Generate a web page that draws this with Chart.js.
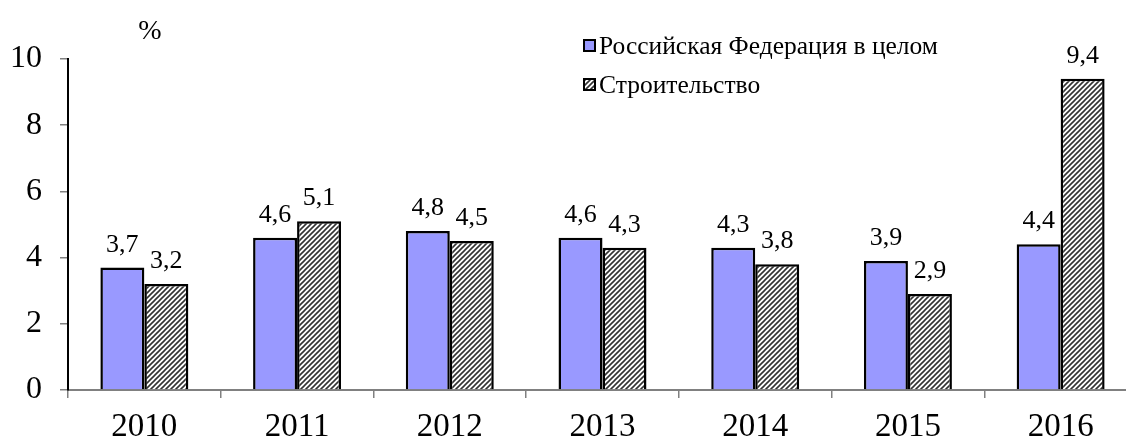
<!DOCTYPE html>
<html>
<head>
<meta charset="utf-8">
<script src="https://cdn.jsdelivr.net/npm/chart.js@4/dist/chart.umd.min.js"></script>
<style>
  html, body { margin: 0; padding: 0; background: #fff; overflow: hidden; }
  #wrap { width: 1140px; height: 442px; }
</style>
</head>
<body>
<div id="wrap"><canvas id="canvas"></canvas></div>
<script>
var years = ['2010', '2011', '2012', '2013', '2014', '2015', '2016'];
var russiaTotal = [3.7, 4.6, 4.8, 4.6, 4.3, 3.9, 4.4];
var construction = [3.2, 5.1, 4.5, 4.3, 3.8, 2.9, 9.4];
var seriesNames = ['Российская Федерация в целом', 'Строительство'];
var yTicks = [0, 2, 4, 6, 8, 10];

var FONT = '"Liberation Serif", "Times New Roman", serif';

// diagonal hatch for the second series
function makeHatch() {
    var c = document.createElement('canvas');
    c.width = 5; c.height = 5;
    var g = c.getContext('2d');
    g.fillStyle = '#fff';
    g.fillRect(0, 0, 5, 5);
    g.strokeStyle = '#333';
    g.lineWidth = 1.6;
    g.beginPath();
    g.moveTo(-1, 6); g.lineTo(6, -1);
    g.moveTo(-1, 1); g.lineTo(1, -1);
    g.moveTo(4, 6); g.lineTo(6, 4);
    g.stroke();
    return g.createPattern(c, 'repeat');
}
var hatch = makeHatch();

var extras = {
    id: 'extras',
    afterDatasetsDraw: function (chart) {
        var ctx = chart.ctx;
        ctx.save();
        ctx.fillStyle = '#000';
        ctx.font = '26px ' + FONT;
        ctx.textAlign = 'center';
        ctx.textBaseline = 'alphabetic';
        chart.data.datasets.forEach(function (ds, i) {
            chart.getDatasetMeta(i).data.forEach(function (bar, j) {
                ctx.fillText(String(ds.data[j]).replace('.', ','), bar.x, bar.y - 16);
            });
        });

        // unit label
        ctx.font = '28px ' + FONT;
        ctx.fillText('%', 150, 39);

        // legend
        ctx.textAlign = 'left';
        ctx.textBaseline = 'middle';
        ctx.font = '25.5px ' + FONT;
        var rows = [46, 85];
        chart.data.datasets.forEach(function (ds, i) {
            ctx.fillStyle = ds.backgroundColor;
            ctx.fillRect(584, rows[i] - 6, 11, 11);
            ctx.strokeStyle = '#000';
            ctx.lineWidth = 2;
            ctx.strokeRect(584, rows[i] - 6, 11, 11);
            ctx.fillStyle = '#000';
            ctx.fillText(ds.label, 599, rows[i] + 1);
        });
        ctx.restore();
    }
};

var ctx = document.getElementById('canvas').getContext('2d');
var chart = new Chart(ctx, {
    type: 'bar',
    data: {
        labels: years,
        datasets: [
            {
                label: seriesNames[0],
                data: russiaTotal,
                backgroundColor: '#9999ff',
                borderColor: '#000',
                borderWidth: 2.5
            },
            {
                label: seriesNames[1],
                data: construction,
                backgroundColor: hatch,
                borderColor: '#000',
                borderWidth: 2.5
            }
        ]
    },
    options: {
        responsive: true,
        maintainAspectRatio: false,
        animation: false,
        layout: { padding: { top: 59, left: 0, right: 3, bottom: 0 } },
        datasets: { bar: { categoryPercentage: 0.576, barPercentage: 1 } },
        plugins: { legend: { display: false }, tooltip: { enabled: false } },
        scales: {
            x: {
                grid: { display: true, drawOnChartArea: false, offset: true, tickLength: 8, color: '#808080', lineWidth: 1.5 },
                border: { display: true, color: '#808080', width: 2 },
                ticks: { color: '#000', font: { family: FONT, size: 33 }, padding: 10, maxRotation: 0 },
                afterFit: function (s) { s.height = 52; }
            },
            y: {
                min: 0,
                max: 10,
                afterBuildTicks: function (s) { s.ticks = yTicks.map(function (v) { return { value: v }; }); },
                grid: { display: true, drawOnChartArea: false, tickLength: 8, color: '#808080', lineWidth: 1.5 },
                border: { display: true, color: '#000', width: 2 },
                ticks: { color: '#000', font: { family: FONT, size: 32 }, padding: 18 },
                afterFit: function (s) { s.width = 68; }
            }
        }
    },
    plugins: [extras]
});
</script>
</body>
</html>
